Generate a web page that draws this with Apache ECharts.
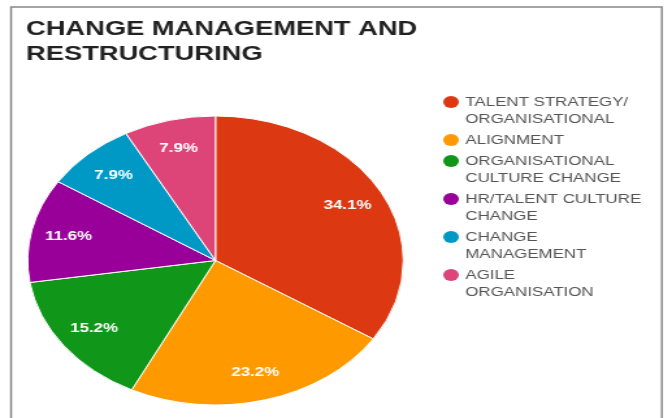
<!DOCTYPE html>
<html>
<head>
<meta charset="utf-8">
<script src="https://cdn.jsdelivr.net/npm/echarts@6/dist/echarts.min.js"></script>
<style>
  html, body { margin: 0; padding: 0; background: #fff; overflow: hidden; }
  #wrap { width: 672px; height: 418px; overflow: hidden; }
  #chart { width: 517px; height: 418px; transform-origin: 0 0; transform: scaleX(1.29981); }
</style>
</head>
<body>
<div id="wrap"><div id="chart"></div></div>
<script>
const titleText = 'CHANGE MANAGEMENT AND\nRESTRUCTURING';
const categories = [
  'TALENT STRATEGY/\nORGANISATIONAL',
  'ALIGNMENT',
  'ORGANISATIONAL\nCULTURE CHANGE',
  'HR/TALENT CULTURE\nCHANGE',
  'CHANGE\nMANAGEMENT',
  'AGILE\nORGANISATION'
];
const values = [34.1, 23.2, 15.2, 11.6, 7.9, 7.9];
const colors = ['#DC3912', '#FF9900', '#109618', '#990099', '#0099C6', '#DD4477'];

const CX = 165.8, CY = 260.5, R = 144.5;
const FONT = 'Liberation Sans, Arial, sans-serif';

// legend marker: circle at the top of a tall icon box so it sits beside the first text line
const ICON = 12, LEG_LH = 17;
const TALL_H = 2 * LEG_LH - (LEG_LH - ICON); // = 29
const r = ICON / 2;
const tallIcon = 'path://M0,' + r + 'A' + r + ',' + r + ',0,1,1,' + ICON + ',' + r +
  'A' + r + ',' + r + ',0,1,1,0,' + r + 'ZM' + r + ',' + TALL_H + 'L' + r + ',' + TALL_H;

const chart = echarts.init(document.getElementById('chart'), null, { renderer: 'canvas' });

chart.setOption({
  backgroundColor: '#fff',
  animation: false,
  color: colors,
  title: {
    text: titleText,
    left: 20,
    top: 17,
    padding: 0,
    textStyle: { fontFamily: FONT, fontSize: 21, fontWeight: 'bold', color: '#222', lineHeight: 25 }
  },
  legend: {
    orient: 'vertical',
    left: 341,
    top: 93.5,
    padding: 0,
    itemWidth: ICON,
    itemHeight: TALL_H,
    itemGap: 4,
    icon: 'circle',
    selectedMode: false,
    itemStyle: { borderWidth: 0 },
    textStyle: { fontFamily: FONT, fontSize: 13, color: '#555', lineHeight: LEG_LH },
    data: categories.map(n => n.indexOf('\n') >= 0 ? { name: n, icon: tallIcon } : { name: n, icon: 'circle' })
  },
  graphic: [{
    type: 'rect',
    shape: { x: 8.5, y: 7, width: 500.7, height: 430 },
    style: { fill: 'none', stroke: '#888', lineWidth: 1.5 },
    silent: true
  }],
  series: [{
    type: 'pie',
    center: [CX, CY],
    radius: R,
    startAngle: 90,
    clockwise: true,
    avoidLabelOverlap: false,
    itemStyle: { borderColor: '#fff', borderWidth: 1 },
    label: {
      show: true,
      position: 'inside',
      formatter: '{c}%',
      color: '#fff',
      fontFamily: FONT,
      fontSize: 13,
      fontWeight: 'bold'
    },
    labelLine: { show: false },
    labelLayout: function (p) {
      const b = p.labelRect;
      const lx = b.x + b.width / 2, ly = b.y + b.height / 2;
      const dx = lx - CX, dy = ly - CY;
      const d = Math.hypot(dx, dy) || 1;
      const k = R * 0.8 / d;
      return { x: CX + dx * k, y: CY + dy * k, align: 'center', verticalAlign: 'middle' };
    },
    data: categories.map((n, i) => ({ name: n, value: values[i] }))
  }]
});
</script>
</body>
</html>
